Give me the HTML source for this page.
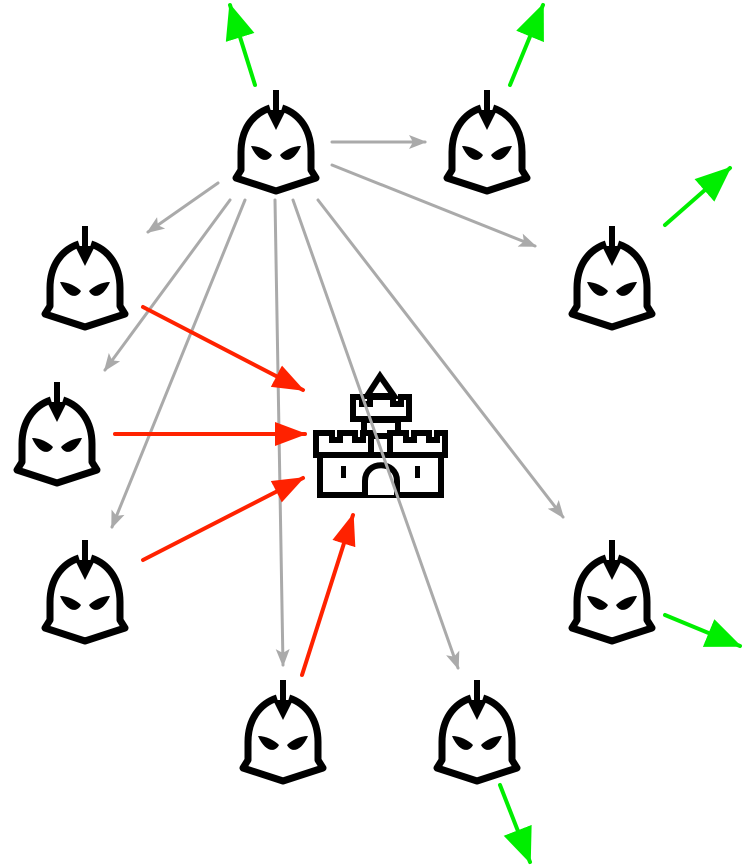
<!DOCTYPE html>
<html><head><style>html,body{margin:0;padding:0;background:#fff;}svg{display:block}</style></head><body>
<svg width="756" height="866" viewBox="0 0 756 866" xmlns="http://www.w3.org/2000/svg">
<defs>
<marker id="g" markerUnits="userSpaceOnUse" markerWidth="18" markerHeight="14" refX="16" refY="7" orient="auto"><path d="M0,0 L18,7 L0,14 L4,7 Z" fill="#aaa"/></marker>
<marker id="r" markerUnits="userSpaceOnUse" markerWidth="32" markerHeight="24" refX="30" refY="12" orient="auto"><path d="M0,0 L32,12 L0,24 Z" fill="#ff2200"/></marker>
<marker id="gr" markerUnits="userSpaceOnUse" markerWidth="36" markerHeight="30" refX="34" refY="15" orient="auto"><path d="M0,0 L36,15 L0,30 Z" fill="#00ee00"/></marker>
<g id="h">
<path d="M-6,18 C-24,24 -35,40 -35,62 L-35,80 L-40,88 L0,101 L40,88 L35,80 L35,62 C35,40 24,24 6,18" fill="#fff" stroke="#000" stroke-width="7" stroke-linejoin="round"/>
<path d="M-3,0 L3,0 L3,20 L10,20 L0,40 L-10,20 L-3,20 Z" fill="#000"/>
<path d="M-25,56 C-17,56 -9,60 -4,65 C-8,73 -18,72 -25,56 Z" fill="#000"/>
<path d="M25,56 C17,56 9,60 4,65 C8,73 18,72 25,56 Z" fill="#000"/>
</g>
</defs>
<g stroke="#000" stroke-width="6" fill="#fff" stroke-linejoin="miter">
<path d="M367,396 L380,376 L394,396 Z"/>
<path d="M320,455 L320,495 L441,495 L441,455 Z"/>
<path d="M364,420 L364,436 L398,436 L398,420 Z"/>
<path d="M353,397 L353,419 L409,419 L409,397 L401,397 L401,404 L393,404 L393,397 L370,397 L370,404 L362,404 L362,397 Z"/>
<path d="M316,433 L316,455 L371,455 L371,433 L363,433 L363,440 L355,440 L355,433 L340,433 L340,440 L332,440 L332,433 Z"/>
<path d="M390,433 L390,455 L445,455 L445,433 L437,433 L437,440 L429,440 L429,433 L414,433 L414,440 L406,440 L406,433 Z"/>
<path d="M365,495 L365,481 C365,460 397,460 397,481 L397,495"/>
</g>
<rect x="341" y="466" width="5" height="12" fill="#000"/>
<rect x="415" y="466" width="5" height="12" fill="#000"/>
<g stroke="#aaa" stroke-width="3" fill="none" stroke-linecap="round">
<line x1="332" y1="142" x2="425" y2="142" marker-end="url(#g)"/>
<line x1="218" y1="183" x2="148" y2="232" marker-end="url(#g)"/>
<line x1="332" y1="165" x2="535" y2="246" marker-end="url(#g)"/>
<line x1="230" y1="200" x2="105" y2="370" marker-end="url(#g)"/>
<line x1="245" y1="200" x2="112" y2="527" marker-end="url(#g)"/>
<line x1="275" y1="200" x2="283" y2="665" marker-end="url(#g)"/>
<line x1="293" y1="200" x2="458" y2="668" marker-end="url(#g)"/>
<line x1="318" y1="200" x2="563" y2="517" marker-end="url(#g)"/>
</g>
<g stroke="#ff2200" stroke-width="4" fill="none" stroke-linecap="round">
<line x1="143" y1="307" x2="303" y2="390" marker-end="url(#r)"/>
<line x1="115" y1="434" x2="305" y2="434" marker-end="url(#r)"/>
<line x1="143" y1="560" x2="303" y2="478" marker-end="url(#r)"/>
<line x1="302" y1="675" x2="353" y2="515" marker-end="url(#r)"/>
</g>
<g stroke="#00ee00" stroke-width="4" fill="none" stroke-linecap="round">
<line x1="255" y1="85" x2="230" y2="5" marker-end="url(#gr)"/>
<line x1="510" y1="85" x2="543" y2="5" marker-end="url(#gr)"/>
<line x1="665" y1="225" x2="730" y2="168" marker-end="url(#gr)"/>
<line x1="665" y1="615" x2="740" y2="646" marker-end="url(#gr)"/>
<line x1="500" y1="785" x2="530" y2="862" marker-end="url(#gr)"/>
</g>
<use href="#h" x="276" y="90"/>
<use href="#h" x="487" y="90"/>
<use href="#h" x="85" y="226"/>
<use href="#h" x="612" y="226"/>
<use href="#h" x="57" y="382"/>
<use href="#h" x="85" y="540"/>
<use href="#h" x="612" y="540"/>
<use href="#h" x="283" y="680"/>
<use href="#h" x="477" y="680"/>
</svg>
</body></html>
